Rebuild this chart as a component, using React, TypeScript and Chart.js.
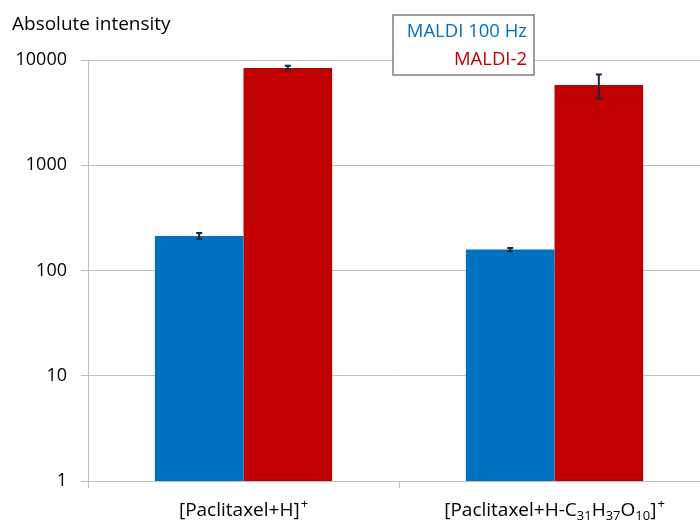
import React, { useEffect, useRef } from "react";
import { Chart, registerables } from "chart.js";

Chart.register(...registerables);

const categories = ["[Paclitaxel+H]⁺", "[Paclitaxel+H-C₃₁H₃₇O₁₀]⁺"];
const seriesNames = ["MALDI 100 Hz", "MALDI-2"];
const maldi100Values = [213, 158];
const maldi100Errors = [14, 6];
const maldi2Values = [8400, 5800];
const maldi2Errors = [400, 1500];
const yTicks = [1, 10, 100, 1000, 10000];
const yTitle = "Absolute intensity";

const FONT = "'Open Sans', 'DejaVu Sans', sans-serif";
const BLUE = "#0070c0";
const RED = "#c00000";
const LABEL_SIZE = 19;

type Seg = { t: string; kind: "n" | "sub" | "sup" };
function parseRich(s: string): Seg[] {
  const out: Seg[] = [];
  for (const ch of s) {
    const c = ch.codePointAt(0) || 0;
    let seg: Seg;
    if (c >= 0x2080 && c <= 0x2089) seg = { t: String(c - 0x2080), kind: "sub" };
    else if (c === 0x207a) seg = { t: "+", kind: "sup" };
    else seg = { t: ch, kind: "n" };
    const last = out[out.length - 1];
    if (last && last.kind === seg.kind) last.t += seg.t;
    else out.push(seg);
  }
  return out;
}

const errorBarPlugin = {
  id: "errorBars",
  afterDatasetsDraw(chart: any) {
    const ctx = chart.ctx;
    const yScale = chart.scales.y;
    chart.data.datasets.forEach((ds: any, di: number) => {
      const meta = chart.getDatasetMeta(di);
      const errs: number[] = ds.errors || [];
      meta.data.forEach((el: any, i: number) => {
        const v = ds.data[i];
        const e = errs[i];
        if (e == null) return;
        const yTop = yScale.getPixelForValue(v + e);
        const yBot = yScale.getPixelForValue(Math.max(v - e, 1e-9));
        const x = el.x;
        ctx.save();
        ctx.strokeStyle = "#1a2440";
        ctx.lineWidth = 2;
        ctx.beginPath();
        ctx.moveTo(x, yTop);
        ctx.lineTo(x, yBot);
        ctx.moveTo(x - 3, yTop);
        ctx.lineTo(x + 3, yTop);
        ctx.moveTo(x - 3, yBot);
        ctx.lineTo(x + 3, yBot);
        ctx.stroke();
        ctx.restore();
      });
    });
  },
};

const decorPlugin = {
  id: "decor",
  afterDraw(chart: any) {
    const ctx = chart.ctx;
    ctx.save();
    // x category labels with sub/superscripts
    const xScale = chart.scales.x;
    const base = 516;
    categories.forEach((lab, i) => {
      const segs = parseRich(lab);
      const fontFor = (k: string) =>
        `${k === "n" ? LABEL_SIZE : Math.round(LABEL_SIZE * 0.68)}px ${FONT}`;
      let total = 0;
      segs.forEach((sg) => {
        ctx.font = fontFor(sg.kind);
        total += ctx.measureText(sg.t).width + (sg.kind === "sup" ? 1 : 0);
      });
      let x = xScale.getPixelForTick(i) - total / 2;
      ctx.fillStyle = "#000";
      ctx.textAlign = "left";
      ctx.textBaseline = "alphabetic";
      segs.forEach((sg) => {
        ctx.font = fontFor(sg.kind);
        const dy = sg.kind === "sub" ? 4 : sg.kind === "sup" ? -8 : 0;
        if (sg.kind === "sup") x += 1;
        ctx.fillText(sg.t, x, base + dy);
        x += ctx.measureText(sg.t).width;
      });
    });
    // y title
    ctx.fillStyle = "#000";
    ctx.font = `19px ${FONT}`;
    ctx.textAlign = "left";
    ctx.textBaseline = "middle";
    ctx.fillText(yTitle, 12, 25);
    // legend box
    const bx = 393, by = 15, bw = 141, bh = 60;
    ctx.fillStyle = "#fff";
    ctx.fillRect(bx, by, bw, bh);
    ctx.strokeStyle = "#7f7f7f";
    ctx.lineWidth = 1.5;
    ctx.strokeRect(bx, by, bw, bh);
    ctx.font = `18.5px ${FONT}`;
    ctx.textAlign = "right";
    ctx.fillStyle = BLUE;
    ctx.fillText(seriesNames[0], 527, 32);
    ctx.fillStyle = RED;
    ctx.fillText(seriesNames[1], 527, 60);
    ctx.restore();
  },
};

export default function App() {
  const ref = useRef<HTMLCanvasElement>(null);
  useEffect(() => {
    if (!ref.current) return;
    const chart = new Chart(ref.current, {
      type: "bar",
      data: {
        labels: categories,
        datasets: [
          {
            label: seriesNames[0],
            data: maldi100Values,
            backgroundColor: BLUE,
            errors: maldi100Errors,
          } as any,
          {
            label: seriesNames[1],
            data: maldi2Values,
            backgroundColor: RED,
            errors: maldi2Errors,
          } as any,
        ],
      },
      options: {
        animation: false,
        responsive: false,
        maintainAspectRatio: false,
        layout: { padding: { top: 60, right: 0, left: 0, bottom: 0 } },
        datasets: { bar: { barPercentage: 1, categoryPercentage: 0.57 } },
        plugins: {
          legend: { display: false },
          tooltip: { enabled: false },
          title: { display: false },
        },
        scales: {
          x: {
            grid: {
              display: true,
              offset: true,
              drawOnChartArea: false,
              drawTicks: true,
              tickLength: 7,
              color: "#bfbfbf",
            },
            border: { display: true, color: "#bfbfbf" },
            ticks: {
              color: "rgba(0,0,0,0)",
              font: { family: FONT, size: LABEL_SIZE },
              padding: 6,
            },
            afterFit(scale: any) {
              scale.height = 43;
            },
          },
          y: {
            type: "logarithmic",
            min: 1,
            max: 10000,
            afterBuildTicks(scale: any) {
              scale.ticks = yTicks.map((v) => ({ value: v }));
            },
            grid: {
              color: "#bfbfbf",
              lineWidth: 1,
              tickLength: 7,
            },
            border: { display: true, color: "#bfbfbf" },
            ticks: {
              color: "#000",
              font: { family: FONT, size: 18 },
              padding: 14,
              callback: (v: any) => String(v),
            },
            afterFit(scale: any) {
              scale.width = 88;
            },
          },
        },
      } as any,
      plugins: [errorBarPlugin, decorPlugin],
    });
    return () => chart.destroy();
  }, []);
  return (
    <div
      style={{
        position: "fixed",
        left: 0,
        top: 0,
        width: 700,
        height: 524,
        overflow: "hidden",
        background: "#fff",
      }}
    >
      <canvas ref={ref} width={710} height={524} style={{ width: 710, height: 524, display: "block" }} />
    </div>
  );
}
